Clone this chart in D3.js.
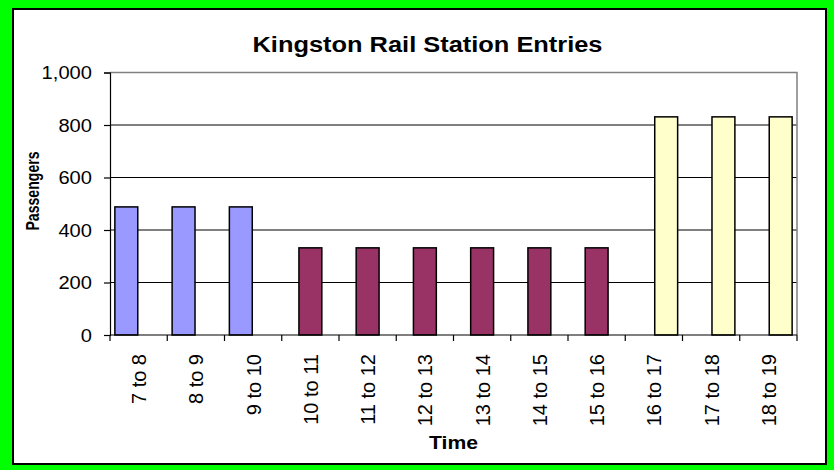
<!DOCTYPE html>
<html>
<head>
<meta charset="utf-8">
<script src="https://cdn.jsdelivr.net/npm/d3@7"></script>
<style>
  body { margin: 0; background: #00ff00; }
  svg { display: block; font-family: "Liberation Sans", Arial, sans-serif; }
</style>
</head>
<body>
<svg id="chart" width="834" height="470"></svg>
<script>
// chart data
const categories = ['7 to 8', '8 to 9', '9 to 10', '10 to 11', '11 to 12', '12 to 13',
  '13 to 14', '14 to 15', '15 to 16', '16 to 17', '17 to 18', '18 to 19'];
const seriesNames = ['Morning', 'Daytime', 'Evening'];
const morning = [488, 488, 488, null, null, null, null, null, null, null, null, null];
const daytime = [null, null, null, 332, 332, 332, 332, 332, 332, null, null, null];
const evening = [null, null, null, null, null, null, null, null, null, 831, 831, 831];
const yTicks = [0, 200, 400, 600, 800, 1000];

const seriesColors = { 'Morning': '#9999ff', 'Daytime': '#993366', 'Evening': '#ffffcc' };

const svg = d3.select('#chart');

// frame: green border with black inner line
svg.append('rect')
  .attr('x', 0).attr('y', 0).attr('width', 834).attr('height', 470)
  .attr('fill', '#00ff00');
svg.append('rect')
  .attr('x', 13).attr('y', 9).attr('width', 813).attr('height', 455)
  .attr('fill', 'white')
  .attr('stroke', 'black')
  .attr('stroke-width', 2);

const plot = { left: 110, right: 797, top: 72.5, bottom: 335 };

const x = d3.scaleBand()
  .domain(categories)
  .range([plot.left, plot.right])
  .padding(0);

const y = d3.scaleLinear()
  .domain([0, 1000])
  .range([plot.bottom, plot.top]);

// clustered offsets for the 3 series inside each category
const sub = d3.scalePoint()
  .domain(seriesNames)
  .range([-x.bandwidth() * 0.215, x.bandwidth() * 0.215]);
const barW = x.bandwidth() * 0.4;

// gridlines
svg.append('g')
  .selectAll('line')
  .data(yTicks.filter(d => d > 0 && d < 1000))
  .enter()
  .append('line')
  .attr('x1', plot.left).attr('x2', plot.right)
  .attr('y1', d => y(d)).attr('y2', d => y(d))
  .attr('stroke', 'black')
  .attr('stroke-width', 1);

// plot area border (top and right, gray)
svg.append('path')
  .attr('d', `M${plot.left},${y(1000)}H${plot.right}V${plot.bottom}`)
  .attr('fill', 'none')
  .attr('stroke', '#808080')
  .attr('stroke-width', 1.5);

// bars
const rows = [];
categories.forEach((c, i) => {
  [morning, daytime, evening].forEach((vals, s) => {
    if (vals[i] != null) rows.push({ cat: c, series: seriesNames[s], value: vals[i] });
  });
});

svg.append('g')
  .selectAll('rect')
  .data(rows)
  .enter()
  .append('rect')
  .attr('x', d => x(d.cat) + x.bandwidth() / 2 + sub(d.series) - barW / 2)
  .attr('y', d => y(d.value))
  .attr('width', barW)
  .attr('height', d => y(0) - y(d.value))
  .attr('fill', d => seriesColors[d.series])
  .attr('stroke', 'black')
  .attr('stroke-width', 1.5);

// y axis
const yAxis = svg.append('g')
  .attr('transform', `translate(${plot.left},0)`)
  .call(d3.axisLeft(y).tickValues(yTicks).tickSize(6).tickPadding(11).tickFormat(d3.format(',')));
yAxis.selectAll('text')
  .attr('font-size', 19)
  .attr('fill', 'black')
  .attr('font-family', '"Liberation Sans", Arial, sans-serif')
  .attr('transform', 'scale(1.06,1)');
yAxis.selectAll('line, path').attr('stroke', 'black').attr('stroke-width', 1.2);

// x axis, ticks at category boundaries
const xAxis = svg.append('g')
  .attr('transform', `translate(0,${plot.bottom})`);
xAxis.append('line')
  .attr('x1', plot.left).attr('x2', plot.right)
  .attr('y1', 0).attr('y2', 0)
  .attr('stroke', 'black').attr('stroke-width', 1.2);
xAxis.selectAll('.tick')
  .data(categories.concat(['end']))
  .enter()
  .append('line')
  .attr('x1', (d, i) => plot.left + i * x.step())
  .attr('x2', (d, i) => plot.left + i * x.step())
  .attr('y1', 0).attr('y2', 6)
  .attr('stroke', 'black').attr('stroke-width', 1.2);
xAxis.selectAll('text')
  .data(categories)
  .enter()
  .append('text')
  .attr('transform', d => `translate(${x(d) + x.bandwidth() / 2 + 7.5},19) rotate(-90)`)
  .attr('text-anchor', 'end')
  .attr('font-size', 20)
  .text(d => d);

// title and axis titles
svg.append('text')
  .attr('x', 427.5).attr('y', 52)
  .attr('text-anchor', 'middle')
  .attr('font-size', 22)
  .attr('font-weight', 'bold')
  .attr('textLength', 350)
  .attr('lengthAdjust', 'spacingAndGlyphs')
  .text('Kingston Rail Station Entries');

svg.append('text')
  .attr('transform', 'translate(39,191) rotate(-90) scale(0.94,1.25)')
  .attr('text-anchor', 'middle')
  .attr('font-size', 15)
  .attr('font-weight', 'bold')
  .text('Passengers');

svg.append('text')
  .attr('x', 453.5).attr('y', 449)
  .attr('text-anchor', 'middle')
  .attr('font-size', 19)
  .attr('font-weight', 'bold')
  .attr('textLength', 49)
  .attr('lengthAdjust', 'spacingAndGlyphs')
  .text('Time');
</script>
</body>
</html>
